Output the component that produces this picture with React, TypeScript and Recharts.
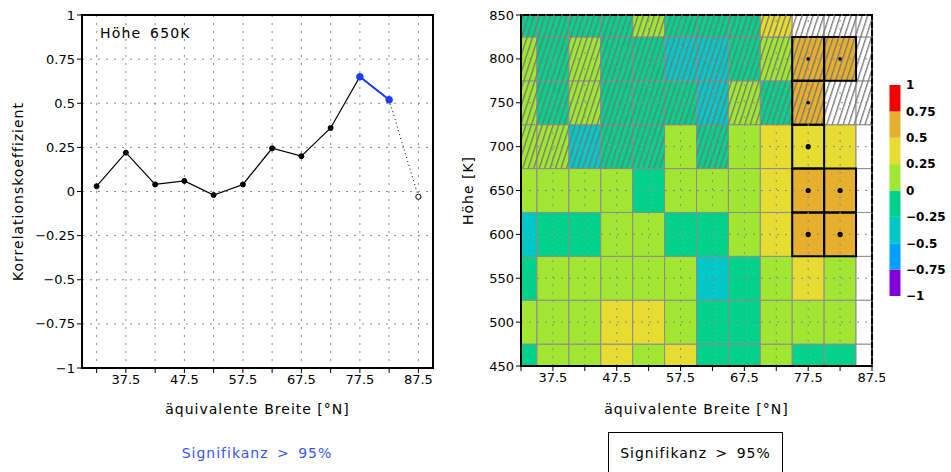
import React from "react";
import {
	LineChart,
	ComposedChart,
	BarChart,
	Bar,
	Cell,
	Line,
	Scatter,
	XAxis,
	YAxis,
	CartesianGrid,
	ReferenceArea,
	ReferenceLine,
	Label,
} from "recharts";

// equivalent latitude bins (°N)
const latitudes = [32.5, 37.5, 42.5, 47.5, 52.5, 57.5, 62.5, 67.5, 72.5, 77.5, 82.5, 87.5];
const latLabels = [37.5, 47.5, 57.5, 67.5, 77.5, 87.5];

// correlation at 650 K (left panel)
const corr650 = [0.03, 0.22, 0.04, 0.06, -0.02, 0.04, 0.245, 0.2, 0.36, 0.65, 0.52, -0.03];
const significant650 = [false, false, false, false, false, false, false, false, false, true, true, false];
const reliable650 = [true, true, true, true, true, true, true, true, true, true, true, false];

const corrTicks = [-1, -0.75, -0.5, -0.25, 0, 0.25, 0.5, 0.75, 1];

// height levels (K) and correlation per level (right panel)
const heights = [450, 500, 550, 600, 650, 700, 750, 800, 850];
const row450 = [-0.08, 0.08, 0.1, 0.3, 0.12, 0.28, -0.1, -0.12, 0.1, -0.05, -0.06, null];
const row500 = [0.05, 0.12, 0.1, 0.3, 0.27, 0.15, -0.08, -0.1, 0.12, 0.18, 0.1, null];
const row550 = [-0.05, 0.08, 0.1, 0.12, 0.1, 0.06, -0.28, -0.1, 0.15, 0.32, 0.2, null];
const row600 = [-0.27, -0.06, -0.04, 0.05, 0.08, -0.06, -0.1, 0.12, 0.3, 0.58, 0.55, null];
const row650 = corr650.map((v, i) => (reliable650[i] ? v : null));
const row700 = [0.05, 0.08, -0.3, -0.1, -0.12, 0.06, -0.05, 0.15, 0.35, 0.45, 0.4, null];
const row750 = [0.04, -0.1, 0.05, -0.15, -0.2, -0.22, -0.3, 0.1, -0.05, 0.55, null, null];
const row800 = [0.06, -0.12, 0.08, -0.15, -0.18, -0.3, -0.32, -0.2, 0.05, 0.6, 0.56, null];
const row850 = [-0.1, -0.15, -0.2, -0.18, 0.04, -0.1, -0.2, -0.15, 0.28, null, null, null];

// hatched = not enough data
const hatchedLevels = [750, 800, 850];
const hatched700 = [true, true, true, true, true, false, true, false, false, false, false, false];

// significance > 95%: [latitude, height]
const sigCells = [
	[77.5, 800],
	[82.5, 800],
	[77.5, 750],
	[77.5, 700],
	[77.5, 650],
	[82.5, 650],
	[77.5, 600],
	[82.5, 600],
];

// colour scale
const levels = [-1, -0.75, -0.5, -0.25, 0, 0.25, 0.5, 0.75, 1];
const levelColors = ["#8200dc", "#00a0ff", "#00c8c8", "#00d28c", "#a0e632", "#e6dc32", "#e6af2d", "#f00000"];

const FONT = "'DejaVu Sans', sans-serif";
const GRID = "#8c8c8c";

const colorFor = (v: number | null) => {
	if (v === null) return "#ffffff";
	const i = Math.min(7, Math.max(0, Math.floor((v + 1) / 0.25)));
	return levelColors[i];
};

const fmt = (v: number) => String(v).replace("-", "\u2212");
const latFmt = (v: number) => (latLabels.includes(v) ? String(v) : "");

const heatRows = [row450, row500, row550, row600, row650, row700, row750, row800, row850];

const isHatched = (h: number, i: number) =>
	hatchedLevels.includes(h) || (h === 700 && hatched700[i]);

const lineData = latitudes.map((lat, i) => ({
	lat,
	main: reliable650[i] ? corr650[i] : null,
	sig: significant650[i] ? corr650[i] : null,
	weak: !reliable650[i] || (i + 1 < latitudes.length && !reliable650[i + 1]) ? corr650[i] : null,
}));

const sigData = sigCells.map(([lat, h]) => ({ lat, h }));

const OpenDot = (props: any) => {
	const { cx, cy, index } = props;
	if (cy == null || reliable650[index]) return <g key={`od-${index}`} />;
	return (
		<circle key={`od-${index}`} cx={cx} cy={cy} r={2.6} fill="#fff" stroke="#000" strokeWidth={1} />
	);
};

const SigDot = (props: any) => {
	const { cx, cy, payload } = props;
	const small = hatchedLevels.includes(payload.h);
	return <circle cx={cx} cy={cy} r={small ? 1.8 : 2.6} fill="#000" />;
};

const tickStyle = { fill: "#000", fontSize: 13, fontFamily: FONT };

const CorrelationLine = () => (
	<LineChart
		width={445}
		height={472}
		data={lineData}
		margin={{ top: 15, right: 12, left: 0, bottom: 0 }}
	>
		<CartesianGrid stroke={GRID} strokeDasharray="2 6" />
		<XAxis
			dataKey="lat"
			type="number"
			domain={[30, 90]}
			ticks={latitudes}
			interval={0}
			tickFormatter={latFmt}
			tick={tickStyle}
			tickSize={5}
			tickLine={{ stroke: "#000" }}
			axisLine={{ stroke: "#000", strokeWidth: 2 }}
			height={104}
		>
			<Label
				value="äquivalente Breite [°N]"
				position="insideTop"
				offset={36}
				style={{ fontSize: 14, fontFamily: FONT, fill: "#000", letterSpacing: 1 }}
			/>
		</XAxis>
		<YAxis
			type="number"
			domain={[-1, 1]}
			ticks={corrTicks}
			interval={0}
			tickFormatter={fmt}
			tick={tickStyle}
			tickSize={5}
			tickLine={{ stroke: "#000" }}
			axisLine={{ stroke: "#000", strokeWidth: 2 }}
			width={82}
		>
			<Label
				value="Korrelationskoeffizient"
				angle={-90}
				position="insideLeft"
				offset={18}
				style={{ fontSize: 14, fontFamily: FONT, fill: "#000", letterSpacing: 1, textAnchor: "middle" }}
			/>
		</YAxis>
		<ReferenceArea x1={30} x2={90} y1={-1} y2={1} fill="none" stroke="#000" strokeWidth={2} />
		<Line
			dataKey="main"
			type="linear"
			stroke="#000"
			strokeWidth={1.2}
			dot={{ r: 2.5, fill: "#000", stroke: "#000", strokeWidth: 1 }}
			isAnimationActive={false}
		/>
		<Line
			dataKey="sig"
			type="linear"
			stroke="#1e3cff"
			strokeWidth={1.8}
			dot={{ r: 3.3, fill: "#1e3cff", stroke: "#1e3cff", strokeWidth: 1 }}
			isAnimationActive={false}
		/>
		<Line
			dataKey="weak"
			type="linear"
			stroke="#000"
			strokeWidth={1}
			strokeDasharray="1 3"
			dot={OpenDot}
			isAnimationActive={false}
		/>
	</LineChart>
);

const CorrelationMap = () => (
	<ComposedChart
		width={445}
		height={472}
		data={sigData}
		margin={{ top: 15, right: 13, left: 0, bottom: 0 }}
	>
		<defs>
			<pattern
				id="hatch"
				patternUnits="userSpaceOnUse"
				width={5.2}
				height={10}
				patternTransform="rotate(18)"
			>
				<line x1={0.7} y1={0} x2={0.7} y2={10} stroke="#767676" strokeWidth={1.3} />
			</pattern>
		</defs>
		<XAxis
			dataKey="lat"
			type="number"
			domain={[32.5, 87.5]}
			allowDataOverflow
			ticks={latitudes}
			interval={0}
			tickFormatter={latFmt}
			tick={tickStyle}
			tickSize={5}
			tickLine={{ stroke: "#000" }}
			axisLine={{ stroke: "#000", strokeWidth: 2 }}
			height={106}
		>
			<Label
				value="äquivalente Breite [°N]"
				position="insideTop"
				offset={38}
				style={{ fontSize: 14, fontFamily: FONT, fill: "#000", letterSpacing: 1 }}
			/>
		</XAxis>
		<YAxis
			dataKey="h"
			type="number"
			domain={[450, 850]}
			allowDataOverflow
			ticks={heights}
			interval={0}
			tick={tickStyle}
			tickSize={5}
			tickLine={{ stroke: "#000" }}
			axisLine={{ stroke: "#000", strokeWidth: 2 }}
			width={81}
		>
			<Label
				value="Höhe [K]"
				angle={-90}
				position="insideLeft"
				offset={28}
				style={{ fontSize: 14, fontFamily: FONT, fill: "#000", letterSpacing: 1, textAnchor: "middle" }}
			/>
		</YAxis>
		{heights.map((h, r) =>
			latitudes.map((lat, i) => (
				<ReferenceArea
					key={`c-${h}-${lat}`}
					x1={lat - 2.5}
					x2={lat + 2.5}
					y1={h - 25}
					y2={h + 25}
					ifOverflow="hidden"
					fill={colorFor(heatRows[r][i])}
					fillOpacity={1}
					stroke={GRID}
					strokeWidth={1}
				/>
			))
		)}
		{heights.map((h) =>
			latitudes.map((lat, i) =>
				isHatched(h, i) ? (
					<ReferenceArea
						key={`h-${h}-${lat}`}
						x1={lat - 2.5}
						x2={lat + 2.5}
						y1={h - 25}
						y2={h + 25}
						ifOverflow="hidden"
						fill="url(#hatch)"
						fillOpacity={1}
						stroke="none"
					/>
				) : null
			)
		)}
		{latitudes.map((lat) => (
			<ReferenceLine key={`gx-${lat}`} x={lat} stroke={GRID} strokeDasharray="2 6" />
		))}
		{heights.map((h) => (
			<ReferenceLine key={`gy-${h}`} y={h} stroke={GRID} strokeDasharray="2 6" />
		))}
		{sigCells.map(([lat, h]) => (
			<ReferenceArea
				key={`s-${h}-${lat}`}
				x1={lat - 2.5}
				x2={lat + 2.5}
				y1={h - 25}
				y2={h + 25}
				ifOverflow="hidden"
				fill="none"
				stroke="#000"
				strokeWidth={2}
			/>
		))}
		<ReferenceArea x1={32.5} x2={87.5} y1={450} y2={850} fill="none" stroke="#000" strokeWidth={2} />
		<Scatter dataKey="h" shape={SigDot} isAnimationActive={false} />
	</ComposedChart>
);

// colour bar: one range bar per level bin, all at the same x position
const colorBins = levelColors.map((c, i) => ({ x: 0, range: [levels[i], levels[i + 1]], c }));

const ColorBar = () => (
	<BarChart
		width={80}
		height={320}
		data={colorBins}
		margin={{ top: 85, right: 0, left: 9, bottom: 24 }}
	>
		<XAxis dataKey="x" type="number" domain={[-0.5, 0.5]} hide />
		<YAxis
			type="number"
			orientation="right"
			domain={[-1, 1]}
			ticks={levels}
			interval={0}
			tickFormatter={fmt}
			axisLine={false}
			tickLine={false}
			tickSize={0}
			tickMargin={6}
			tick={{ fill: "#000", fontSize: 12, fontFamily: FONT, fontWeight: "bold" }}
			width={60}
		/>
		<Bar dataKey="range" barSize={11} isAnimationActive={false}>
			{colorBins.map((b) => (
				<Cell key={b.c} fill={b.c} />
			))}
		</Bar>
	</BarChart>
);

export default function App() {
	return (
		<div
			style={{
				position: "absolute",
				left: 0,
				top: 0,
				width: 951,
				height: 472,
				overflow: "hidden",
				background: "#fff",
				fontFamily: FONT,
			}}
		>
			<div style={{ position: "absolute", left: 0, top: 0 }}>
				<CorrelationLine />
			</div>
			<div style={{ position: "absolute", left: 440, top: 0 }}>
				<CorrelationMap />
			</div>
			<div style={{ position: "absolute", left: 880, top: 0 }}>
				<ColorBar />
			</div>
			<div
				style={{
					position: "absolute",
					left: 100,
					top: 26,
					fontSize: 14,
					lineHeight: "14px",
					letterSpacing: 1.2,
					wordSpacing: 3,
				}}
			>
				Höhe 650K
			</div>
			<div
				style={{
					position: "absolute",
					left: 157,
					top: 446,
					width: 200,
					textAlign: "center",
					fontSize: 14,
					lineHeight: "14px",
					letterSpacing: 1,
					wordSpacing: 3,
					color: "#3a55f5",
				}}
			>
				Signifikanz &gt; 95%
			</div>
			<div
				style={{
					position: "absolute",
					left: 608,
					top: 432,
					width: 175,
					height: 60,
					boxSizing: "border-box",
					border: "1.5px solid #000",
					paddingTop: 13,
					textAlign: "center",
					fontSize: 14,
					lineHeight: "14px",
					letterSpacing: 1,
					wordSpacing: 3,
				}}
			>
				Signifikanz &gt; 95%
			</div>
		</div>
	);
}
